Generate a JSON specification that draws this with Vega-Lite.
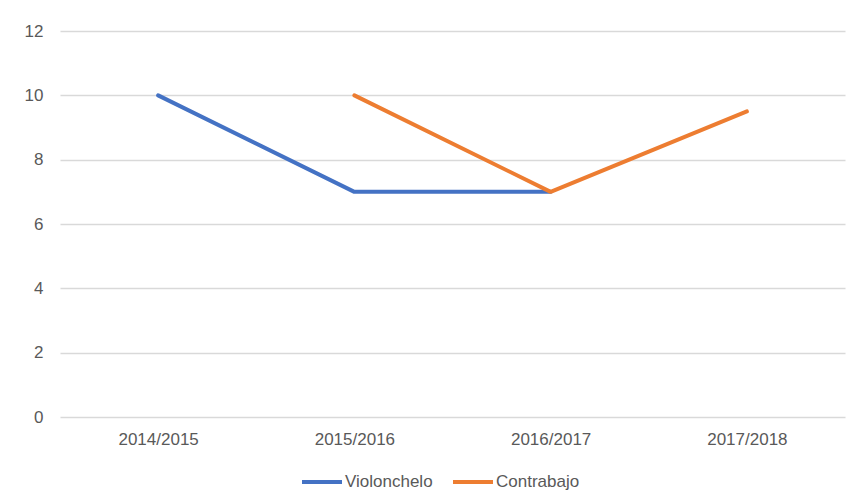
{
  "$schema": "https://vega.github.io/schema/vega-lite/v6.json",
  "width": 785,
  "height": 386,
  "autosize": {"type": "none"},
  "padding": {"left": 60, "top": 31, "right": 9, "bottom": 87},
  "background": "white",
  "config": {
    "view": {"stroke": null},
    "font": "Liberation Sans",
    "axis": {"labelColor": "#595959", "labelFontSize": 17, "labelFont": "Liberation Sans"}
  },
  "data": {
    "values": [
      {"year": "2014/2015", "series": "Violonchelo", "value": 10},
      {"year": "2015/2016", "series": "Violonchelo", "value": 7},
      {"year": "2016/2017", "series": "Violonchelo", "value": 7},
      {"year": "2015/2016", "series": "Contrabajo", "value": 10},
      {"year": "2016/2017", "series": "Contrabajo", "value": 7},
      {"year": "2017/2018", "series": "Contrabajo", "value": 9.5}
    ]
  },
  "mark": {"type": "line", "strokeWidth": 4, "strokeCap": "round", "strokeJoin": "round"},
  "encoding": {
    "x": {
      "field": "year",
      "type": "ordinal",
      "scale": {"type": "point", "padding": 0.5, "domain": ["2014/2015", "2015/2016", "2016/2017", "2017/2018"]},
      "axis": {"title": null, "labelAngle": 0, "ticks": false, "domain": false, "grid": false, "labelPadding": 14}
    },
    "y": {
      "field": "value",
      "type": "quantitative",
      "scale": {"domain": [0, 12], "nice": false},
      "axis": {"title": null, "values": [0, 2, 4, 6, 8, 10, 12], "ticks": false, "domain": false, "gridColor": "#d9d9d9", "gridWidth": 1.3, "labelPadding": 17}
    },
    "color": {
      "field": "series",
      "type": "nominal",
      "scale": {"domain": ["Violonchelo", "Contrabajo"], "range": ["#4472C4", "#ED7D31"]},
      "legend": {
        "title": null,
        "orient": "none",
        "direction": "horizontal",
        "legendX": 240,
        "legendY": 429,
        "symbolType": "stroke",
        "symbolSize": 1600,
        "symbolStrokeWidth": 4,
        "labelFontSize": 17,
        "labelColor": "#595959",
        "labelOffset": 1,
        "columnPadding": 12
      }
    }
  }
}
